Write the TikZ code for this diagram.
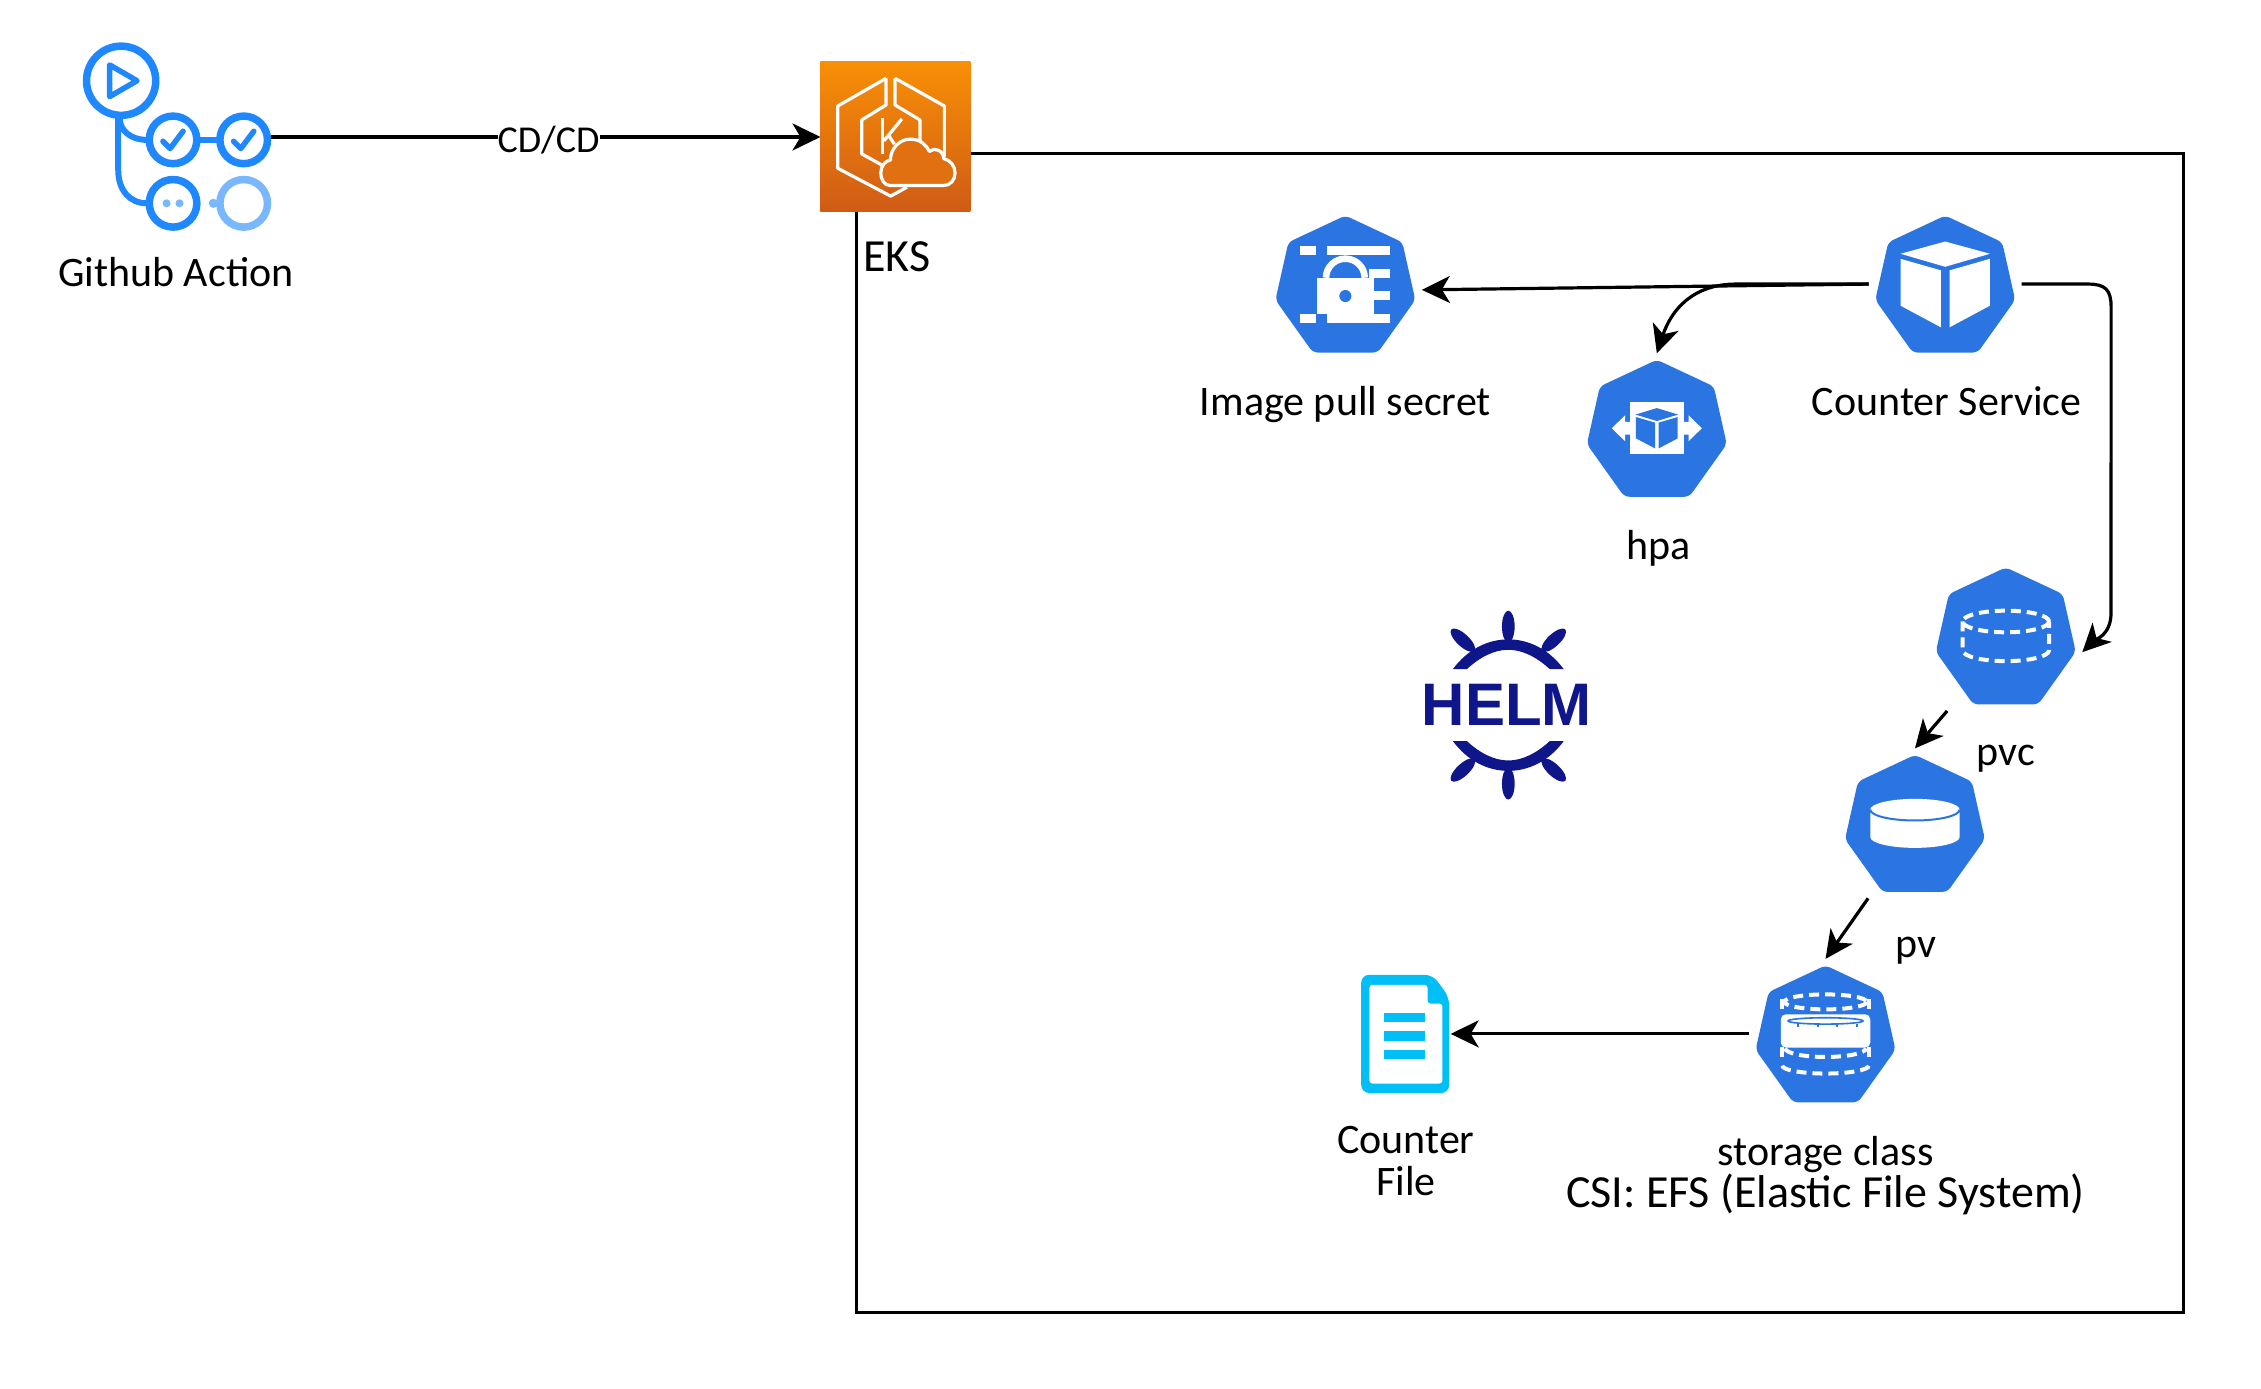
\documentclass[tikz,border=0pt]{standalone}
\usepackage{fontspec}
\setmainfont{Carlito}
\newfontfamily\helmFont{Liberation Sans}
\usetikzlibrary{positioning}
\usetikzlibrary{arrows.meta}
\definecolor{kubeBlue}{RGB}{43,117,226}
\definecolor{actionBlue}{RGB}{32,136,255}
\definecolor{actionPale}{RGB}{121,184,255}
\definecolor{eksTop}{RGB}{248,143,6}
\definecolor{eksMid}{RGB}{224,112,16}
\definecolor{eksBottom}{RGB}{207,91,22}
\definecolor{fileCyan}{RGB}{0,190,246}
\definecolor{helmNavy}{RGB}{15,22,137}
\tikzstyle{board} = [x = 1.442pt, y = -1.442pt]
\tikzstyle{iconBox} = [inner sep = 0, outer sep = 0, minimum width = 153pt, minimum height = 150pt]
\tikzstyle{actionBox} = [inner sep = 0, outer sep = 0, minimum width = 189pt, minimum height = 189pt]
\tikzstyle{fileBox} = [inner sep = 0, outer sep = 0, minimum width = 89.5pt, minimum height = 118pt]
\tikzstyle{eksBox} = [inner sep = 0, outer sep = 0, minimum size = 150pt, top color = eksTop, bottom color = eksBottom]
\tikzstyle{iconLabel} = [font = \fontsize{42}{42}\selectfont, align = center, inner sep = 0]
\tikzstyle{flowArrow} = [line width = 3.2pt, -{Stealth[length = 28pt, width = 27pt, inset = 8pt]}]
\tikzstyle{dashLine} = [white, line width = 4pt, dash pattern = on 10pt off 6pt]
\tikzstyle{actionLine} = [actionBlue, line width = 7.5pt]
\tikzstyle{eksLine} = [white, line width = 3.2pt, line join = round]
\newcommand{\kubeBody}{\fill [kubeBlue, rounded corners = 5pt] (0,-47.5) -- (39.5,-29) -- (48.5,11) -- (22.5,47.5) -- (-22.5,47.5) -- (-48.5,11) -- (-39.5,-29) -- cycle;}
\newcommand{\kubeIcon}[4]{
  \node [iconBox] (#1) at (#2,#3) {};
  \begin{scope}[shift = {(#2,#3)}]
    \kubeBody
    #4
  \end{scope}
}
\newcommand{\cubeGlyph}{
  \fill [white] (0,-29.5) -- (31,-21) -- (0,-12) -- (-31,-21) -- cycle;
  \fill [white] (-31,-17.5) -- (-3,-9.5) -- (-3,30) -- (-31,15) -- cycle;
  \fill [white] (31,-17.5) -- (3,-9.5) -- (3,30) -- (31,15) -- cycle;
}
\newcommand{\lockGlyph}{
  \fill [white] (-31.6,-26.6) rectangle (-20.5,-20.3);
  \fill [white] (-12.7,-26.6) rectangle (30.7,-20.3);
  \fill [white] (16.6,-10.4) rectangle (30.7,-4.4);
  \fill [white] (16.6,5) rectangle (30.7,11.3);
  \fill [white] (-31.6,20.8) rectangle (-20.5,27);
  \fill [white] (-12.7,20.8) rectangle (30.7,27);
  \fill [white] (-20,-4.4) rectangle (19.6,20.8);
  \fill [kubeBlue] (0,8.3) circle (4.2);
  \draw [white, line width = 6.6pt] (-13.4,-4.4) arc (180:360:13.4 and 13.2);
}
\newcommand{\scaleGlyph}{
  \fill [white] (-18.7,-18) rectangle (18.7,18);
  \fill [white] (-31.2,0) -- (-22,-9) -- (-22,-4.4) -- (-18.7,-4.4) -- (-18.7,4.4) -- (-22,4.4) -- (-22,9) -- cycle;
  \fill [white] (31.2,0) -- (22,-9) -- (22,-4.4) -- (18.7,-4.4) -- (18.7,4.4) -- (22,4.4) -- (22,9) -- cycle;
  \fill [kubeBlue] (0,-14) -- (14.8,-9.5) -- (0,-5) -- (-14.8,-9.5) -- cycle;
  \fill [kubeBlue] (-14.5,-7.8) -- (-1.2,-3.9) -- (-1.2,14) -- (-14.5,7) -- cycle;
  \fill [kubeBlue] (14.5,-7.8) -- (1.2,-3.9) -- (1.2,14) -- (14.5,7) -- cycle;
}
\newcommand{\dashedDrum}[2]{
  \draw [dashLine] (0,#1) ellipse (#2 and 7.5);
  \draw [dashLine] (-#2,#1) -- (-#2,#1 + 20) arc (180:0:#2 and 7.5) -- (#2,#1);
}
\newcommand{\solidDrum}[3]{
  \fill [white] (-#2,#1) -- (-#2,#1 + #3) arc (180:0:#2 and 7.5) -- (#2,#1) -- cycle;
  \fill [white] (0,#1) ellipse (#2 and 7.5);
  \draw [kubeBlue, line width = 2pt] (-#2,#1) arc (180:0:#2 and 7.5);
}
\newcommand{\claimGlyph}{\dashedDrum{-10}{30}}
\newcommand{\volumeGlyph}{\solidDrum{-9.5}{31}{19}}
\newcommand{\classGlyph}{
  \draw [dashLine] (0,-22.2) ellipse (28.5 and 5.2);
  \draw [dashLine] (-30,-24) -- (-30,-13);
  \draw [dashLine] (30,-24) -- (30,-13);
  \draw [dashLine] (-30,9) -- (-30,18);
  \draw [dashLine] (30,9) -- (30,18);
  \draw [dashLine] (-28,10) arc (180:0:28 and 6);
  \draw [dashLine] (-30,22) arc (180:0:30 and 5.5);
  \fill [white, rounded corners = 5pt] (-31,-13.6) rectangle (31,9.5);
  \draw [kubeBlue, line width = 1.6pt] (0,-9) ellipse (26 and 2.2);
  \foreach \tick in {-19,-5.5,8,21.5} {
    \draw [kubeBlue, line width = 2pt] (\tick,-7) -- (\tick,-5);
  }
}
\begin{document}
\begin{tikzpicture}[board]
  \useasboundingbox (0,0) rectangle (1568,962.6);

  % cluster frame
  \draw [line width = 3pt] (594,106.5) rectangle (1514,910);

  % github action
  \node [actionBox] (action) at (122.5,95) {};
  \draw [actionLine] (84,56) circle (24);
  \draw [actionLine, line width = 5.5pt, line join = round] (76,45) -- ++(19,11) -- ++(-19,11) -- cycle;
  \draw [actionLine, line width = 6pt] (83,82) .. controls (83,90) and (90,97) .. (102,97);
  \draw [actionLine, line width = 6pt] (82,82) -- (82,118) .. controls (82,132) and (90,141) .. (102,141);
  \draw [actionLine, line width = 6pt] (138,97) -- (151,97);
  \foreach \column in {120,169} {
    \draw [actionLine] (\column,97) circle (16.5);
    \draw [actionLine, line width = 5.5pt, line cap = round, line join = round] (\column - 7,98) -- (\column - 2,103) -- (\column + 7,91);
  }
  \draw [actionLine] (120,141) circle (16.5);
  \fill [actionPale] (115.5,141) circle (2.8);
  \fill [actionPale] (124.5,141) circle (2.8);
  \draw [actionLine, actionPale] (169,141) circle (16.5);
  \fill [actionPale] (148,141) circle (3.2);
  \node [iconLabel] (actionLabel) at (122,189) {Github Action};

  % eks
  \node [eksBox] (eks) at (621,95) {};
  \begin{scope}[shift = {(569,43)}]
    \draw [eksLine] (45.5,11.3) -- (12,30.5) -- (12,73.7) -- (48.7,93) -- (60,86.8);
    \draw [eksLine] (51.7,11.3) -- (85.9,30.5) -- (85.9,65.6);
    \draw [eksLine] (45.5,11.3) -- (45.5,29.8) -- (28.6,40.2) -- (28.6,63.7) -- (42.5,71.4);
    \draw [eksLine] (51.7,11.3) -- (51.7,29.8) -- (69,40.2) -- (69,55.7);
    \draw [eksLine] (43.2,39) -- (43.2,63.7);
    \draw [eksLine] (56.4,39.5) -- (44,54.7);
    \draw [eksLine] (47,50.6) -- (51.3,57);
    \filldraw [eksLine, fill = eksMid] (48.3,85.7) .. controls (44,85.7) and (41.8,81) .. (41.8,77) .. controls (41.8,72) and (45,68.5) .. (48.5,68) .. controls (48.5,60) and (55,53.5) .. (62,53.5) .. controls (69,53.5) and (73,57) .. (75.5,62) .. controls (79,59) and (85,61) .. (85.5,67) .. controls (90,68) and (93.3,72) .. (93.3,77) .. controls (93.3,82) and (90,85.7) .. (85.2,85.7) -- cycle;
  \end{scope}
  \node [iconLabel, font = \fontsize{46}{46}\selectfont] (eksLabel) at (622,178) {EKS};

  % kubernetes objects
  \kubeIcon{secret}{933}{197}{\lockGlyph}
  \kubeIcon{service}{1349}{197}{\cubeGlyph}
  \kubeIcon{hpa}{1149}{297}{\scaleGlyph}
  \kubeIcon{pvc}{1391}{441}{\claimGlyph}
  \kubeIcon{pv}{1328}{571}{\volumeGlyph}
  \kubeIcon{storage}{1266}{717}{\classGlyph}
  \node [iconLabel] (secretLabel) at (933,280.5) {Image pull secret};
  \node [iconLabel] (serviceLabel) at (1350,278) {Counter Service};
  \node [iconLabel] (hpaLabel) at (1150,380) {hpa};
  \node [iconLabel] (pvcLabel) at (1391,526) {pvc};
  \node [iconLabel] (pvLabel) at (1329,659) {pv};
  \node [iconLabel] (storageLabel) at (1266,815.5) {storage class\\\fontsize{46}{43}\selectfont CSI: EFS (Elastic File System)};

  % helm wheel
  \begin{scope}[shift = {(1046,489)}]
    \foreach \side in {1,-1} {
      \begin{scope}[yscale = \side]
        \fill [helmNavy] (-38.4,-25) .. controls (-28,-39) and (-14,-45.6) .. (0,-45.6) .. controls (14,-45.6) and (28,-39) .. (38.4,-25) -- (28.7,-25) .. controls (20,-33) and (10,-38.4) .. (0,-38.4) .. controls (-10,-38.4) and (-20,-33) .. (-28.7,-25) -- cycle;
        \fill [helmNavy] (0,-54.5) ellipse (4.4 and 11);
        \fill [helmNavy, shift = {(-31.5,-45)}, rotate = -43] (0,0) ellipse (11 and 4.3);
        \fill [helmNavy, shift = {(31.5,-45)}, rotate = 43] (0,0) ellipse (11 and 4.3);
      \end{scope}
    }
  \end{scope}
  \node [font = \helmFont\bfseries\fontsize{60}{60}\selectfont, helmNavy, inner sep = 0] (helmText) at (1045,489) {HELM};

  % counter file
  \node [fileBox] (file) at (975,717) {};
  \fill [fileCyan, rounded corners = 8pt] (944,676) -- (993.5,676) -- (1005,691.6) -- (1005,758) -- (944,758) -- cycle;
  \fill [white, rounded corners = 3pt] (949.7,683) -- (990,683) -- (990,696) -- (1000.3,696) -- (1000.3,751.4) -- (949.7,751.4) -- cycle;
  \foreach \bar in {702.3,715,728} {
    \fill [fileCyan] (960,\bar) rectangle (988.5,\bar + 6.7);
  }
  \node [iconLabel] (fileLabel) at (975,805.5) {Counter\\File};

  % connections
  \draw [flowArrow] (action.east) -- node [iconLabel, fill = white, pos = .505, font = \fontsize{38}{40}\selectfont, yshift = -3pt] (pipeLabel) {CD/CD} (eks.west);
  \draw [flowArrow] (service.west) -- ([yshift = -5.8pt]secret.east);
  \draw [flowArrow] (service.west) -- ++(-92,0) .. controls +(-30,0) and +(10,-30) .. (hpa.north);
  \coordinate (pvcRail) at (1464,425);
  \draw [flowArrow] (service.east) -- ++(46,0) .. controls +(12,0) and +(0,-12) .. ++(16,16) -- (pvcRail) .. controls +(0,16) and +(8,-8) .. (pvc.-12);
  \draw [flowArrow] (pvc.232) -- (pv.north);
  \draw [flowArrow] (pv.238) -- (storage.north);
  \draw [flowArrow] (storage.west) -- (file.east);
\end{tikzpicture}
\end{document}
